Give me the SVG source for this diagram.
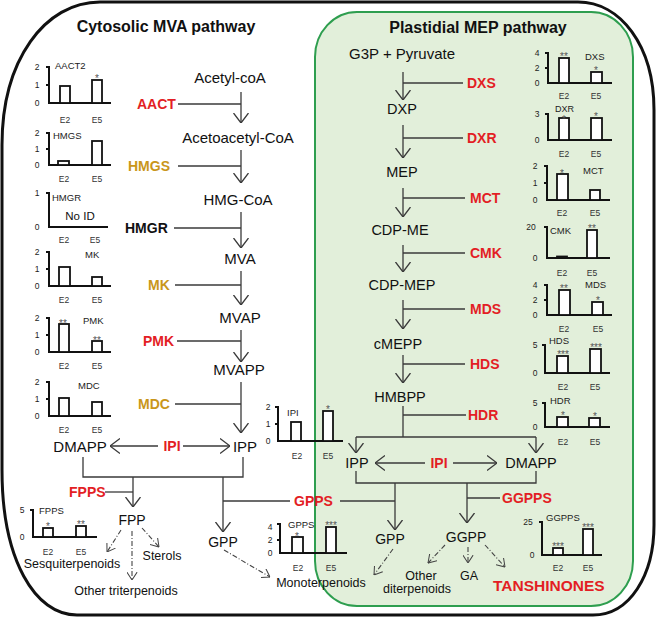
<svg xmlns="http://www.w3.org/2000/svg" width="656" height="619" viewBox="0 0 656 619">
<style>
text{font-family:"Liberation Sans",Arial,sans-serif;fill:#111}
.m{font-size:15px;text-anchor:middle}
.m2{font-size:14.5px;text-anchor:middle}
.p{font-size:12.5px;text-anchor:middle}
.e{font-size:14px;font-weight:bold}
.r{fill:#e31e24}
.g{fill:#c9961a}
.t{font-size:16px;font-weight:bold;text-anchor:middle}
.ax{stroke:#111;stroke-width:2;fill:none}
.bar{fill:#fff;stroke:#111;stroke-width:1.8}
.d{font-size:8.5px;text-anchor:middle;fill:#222}
.cl{font-size:9.5px;fill:#222}
.x{font-size:8.5px;text-anchor:middle;fill:#333}
.s{font-size:10px;text-anchor:middle;fill:#555}
.ln{stroke:#3a3a3a;stroke-width:1.3;fill:none}
.ar{marker-end:url(#ah)}
.dd{stroke:#444;stroke-width:1.1;fill:none;stroke-dasharray:5 2 1 2;marker-end:url(#ah2)}
</style>
<defs>
<marker id="ah" viewBox="0 0 10 16" refX="10" refY="8" markerWidth="10" markerHeight="16" markerUnits="userSpaceOnUse" orient="auto">
<path d="M0,0.5 L10,8 L0,15.5" fill="none" stroke="#3a3a3a" stroke-width="1.3"/>
</marker>
<marker id="ah2" viewBox="0 0 10 14" refX="10" refY="7" markerWidth="8" markerHeight="11" markerUnits="userSpaceOnUse" orient="auto">
<path d="M0,0.5 L10,7 L0,13.5" fill="none" stroke="#444" stroke-width="1.3"/>
</marker>
</defs>

<!-- outer border -->
<path d="M100,2 L578,2 C620,2 654,45 654,110 L654,525 C654,575 630,615 593,615 L77,615 C35,615 2,560 2,470 L2,145 C2,60 45,2 100,2 Z" fill="#fff" stroke="#111" stroke-width="3"/>
<!-- plastid box -->
<rect x="315" y="12" width="318" height="594" rx="42" ry="45" fill="#e2efda" stroke="#2e9e4f" stroke-width="2"/>

<g id="titles">
<text class="t" x="166" y="32">Cytosolic MVA pathway</text>
<text class="t" x="478" y="33">Plastidial MEP pathway</text>
</g>

<!-- charts -->
<g id="chart-AACT2">
<path class="ax" d="M46,67 H49 V103 H111 M46,85 H49"/>
<rect class="bar" x="60" y="86" width="10" height="17"/><rect class="bar" x="92" y="80" width="10" height="23"/>
<text class="d" x="37" y="70">2</text><text class="d" x="37" y="88">1</text><text class="d" x="37" y="106">0</text>
<text class="cl" x="55" y="69">AACT2</text><text class="s" x="97" y="82">*</text>
<text class="x" x="65" y="123">E2</text><text class="x" x="97" y="123">E5</text>
</g>
<g id="chart-HMGS">
<path class="ax" d="M46,133 H49 V165 H111 M46,149 H49"/>
<rect class="bar" x="58" y="161" width="11" height="4"/><rect class="bar" x="92" y="141" width="10" height="24"/>
<text class="d" x="37" y="136">2</text><text class="d" x="37" y="152">1</text><text class="d" x="37" y="168">0</text>
<text class="cl" x="53" y="139">HMGS</text>
<text class="x" x="64" y="182">E2</text><text class="x" x="97" y="182">E5</text>
</g>
<g id="chart-HMGR">
<path class="ax" d="M46,193 H49 V227 H108"/>
<text class="d" x="37" y="196">1</text><text class="d" x="37" y="230">0</text>
<text class="cl" x="52" y="201">HMGR</text>
<text x="80" y="220" style="font-size:11.5px;text-anchor:middle">No ID</text>
<text class="x" x="64" y="243">E2</text><text class="x" x="95" y="243">E5</text>
</g>
<g id="chart-MK">
<path class="ax" d="M46,252 H49 V286 H111 M46,269 H49"/>
<rect class="bar" x="59" y="267" width="11" height="19"/><rect class="bar" x="92" y="277" width="10" height="9"/>
<text class="d" x="37" y="255">2</text><text class="d" x="37" y="272">1</text><text class="d" x="37" y="289">0</text>
<text class="cl" x="85" y="258">MK</text>
<text class="x" x="64" y="303">E2</text><text class="x" x="97" y="303">E5</text>
</g>
<g id="chart-PMK">
<path class="ax" d="M46,318 H49 V352 H111 M46,335 H49"/>
<rect class="bar" x="59" y="324" width="10" height="28"/><rect class="bar" x="92" y="341" width="10" height="11"/>
<text class="d" x="37" y="321">2</text><text class="d" x="37" y="338">1</text><text class="d" x="37" y="355">0</text>
<text class="s" x="63" y="327">**</text><text class="cl" x="83" y="324">PMK</text><text class="s" x="97" y="344">**</text>
<text class="x" x="64" y="369">E2</text><text class="x" x="97" y="369">E5</text>
</g>
<g id="chart-MDC">
<path class="ax" d="M46,382 H49 V416 H111 M46,399 H49"/>
<rect class="bar" x="59" y="398" width="10" height="18"/><rect class="bar" x="92" y="402" width="10" height="14"/>
<text class="d" x="37" y="385">2</text><text class="d" x="37" y="402">1</text><text class="d" x="37" y="419">0</text>
<text class="cl" x="78" y="389">MDC</text>
<text class="x" x="64" y="433">E2</text><text class="x" x="97" y="433">E5</text>
</g>
<g id="chart-IPI">
<path class="ax" d="M275,407 H278 V441 H343 M275,424 H278"/>
<rect class="bar" x="291" y="422" width="10" height="19"/><rect class="bar" x="323" y="411" width="10" height="30"/>
<text class="d" x="268" y="410">2</text><text class="d" x="268" y="427">1</text><text class="d" x="268" y="444">0</text>
<text class="cl" x="287" y="416">IPI</text><text class="s" x="328" y="413">*</text>
<text class="x" x="297" y="459">E2</text><text class="x" x="328" y="459">E5</text>
</g>
<g id="chart-FPPS">
<path class="ax" d="M30,510 H33 V537 H97"/>
<rect class="bar" x="43" y="528" width="10" height="9"/><rect class="bar" x="76" y="526" width="10" height="11"/>
<text class="d" x="22" y="513">5</text><text class="d" x="22" y="540">0</text>
<text class="cl" x="39" y="514">FPPS</text><text class="s" x="48" y="530">*</text><text class="s" x="81" y="528">**</text>
<text class="x" x="48" y="555">E2</text><text class="x" x="81" y="555">E5</text>
</g>
<g id="chart-GPPS">
<path class="ax" d="M277,524 H280 V553 H347 M277,540 H280"/>
<rect class="bar" x="292" y="537" width="11" height="16"/><rect class="bar" x="326" y="527" width="10" height="26"/>
<text class="d" x="270" y="530">4</text><text class="d" x="270" y="543">2</text><text class="d" x="270" y="556">0</text>
<text class="cl" x="288" y="528">GPPS</text><text class="s" x="297" y="540">*</text><text class="s" x="331" y="529">***</text>
<text class="x" x="298" y="571">E2</text><text class="x" x="331" y="571">E5</text>
</g>
<g id="chart-DXS">
<path class="ax" d="M545,53 H548 V83 H612 M545,68 H548"/>
<rect class="bar" x="559" y="58" width="10" height="25"/><rect class="bar" x="591" y="72" width="11" height="11"/>
<text class="d" x="537" y="56">4</text><text class="d" x="537" y="71">2</text><text class="d" x="537" y="86">0</text>
<text class="s" x="564" y="60">**</text><text class="cl" x="585" y="60">DXS</text><text class="s" x="596" y="74">*</text>
<text class="x" x="564" y="99">E2</text><text class="x" x="596" y="99">E5</text>
</g>
<g id="chart-DXR">
<path class="ax" d="M545,114 H548 V140 H612"/>
<rect class="bar" x="559" y="118" width="10" height="22"/><rect class="bar" x="591" y="118" width="11" height="22"/>
<text class="d" x="537" y="117">3</text><text class="d" x="537" y="143">0</text>
<text x="555" y="112" style="font-size:9px;fill:#222">DXR</text><text class="s" x="564" y="123">*</text><text class="s" x="596" y="120">*</text>
<text class="x" x="564" y="157">E2</text><text class="x" x="596" y="157">E5</text>
</g>
<g id="chart-MCT">
<path class="ax" d="M544,166 H547 V200 H610 M544,183 H547"/>
<rect class="bar" x="557" y="174" width="11" height="26"/><rect class="bar" x="590" y="190" width="10" height="10"/>
<text class="d" x="535" y="169">2</text><text class="d" x="535" y="186">1</text><text class="d" x="535" y="203">0</text>
<text class="s" x="562" y="177">*</text><text class="cl" x="583" y="174">MCT</text>
<text class="x" x="562" y="216">E2</text><text class="x" x="595" y="216">E5</text>
</g>
<g id="chart-CMK">
<path class="ax" d="M544,227 H547 V258 H610"/>
<rect class="bar" x="557" y="256.5" width="10" height="1.5"/><rect class="bar" x="587" y="230" width="10" height="28"/>
<text class="d" x="531" y="230">20</text><text class="d" x="535" y="261">0</text>
<text class="cl" x="550" y="234">CMK</text><text class="s" x="592" y="232">**</text>
<text class="x" x="562" y="276">E2</text><text class="x" x="592" y="276">E5</text>
</g>
<g id="chart-MDS">
<path class="ax" d="M544,285 H547 V315 H612 M544,300 H547"/>
<rect class="bar" x="559" y="290" width="11" height="25"/><rect class="bar" x="592" y="302" width="11" height="13"/>
<text class="d" x="535" y="288">4</text><text class="d" x="535" y="303">2</text><text class="d" x="535" y="318">0</text>
<text class="s" x="564" y="292">**</text><text class="cl" x="585" y="288">MDS</text><text class="s" x="598" y="304">*</text>
<text class="x" x="564" y="332">E2</text><text class="x" x="598" y="332">E5</text>
</g>
<g id="chart-HDS">
<path class="ax" d="M542,345 H545 V373 H610"/>
<rect class="bar" x="557" y="356" width="11" height="17"/><rect class="bar" x="590" y="349" width="11" height="24"/>
<text class="d" x="535" y="348">5</text><text class="d" x="535" y="376">0</text>
<text class="cl" x="549" y="344">HDS</text><text class="s" x="563" y="358">***</text><text class="s" x="596" y="351">***</text>
<text class="x" x="563" y="390">E2</text><text class="x" x="595" y="390">E5</text>
</g>
<g id="chart-HDR">
<path class="ax" d="M542,403 H545 V427 H610"/>
<rect class="bar" x="557" y="417" width="11" height="10"/><rect class="bar" x="589" y="418" width="11" height="9"/>
<text class="d" x="535" y="406">5</text><text class="d" x="535" y="430">0</text>
<text class="cl" x="550" y="404">HDR</text><text class="s" x="563" y="419">*</text><text class="s" x="595" y="420">*</text>
<text class="x" x="563" y="445">E2</text><text class="x" x="595" y="445">E5</text>
</g>
<g id="chart-GGPPS">
<path class="ax" d="M539,522 H542 V555 H602"/>
<rect class="bar" x="553" y="548" width="10" height="7"/><rect class="bar" x="583" y="529" width="10" height="26"/>
<text class="d" x="528" y="525">25</text><text class="d" x="532" y="558">0</text>
<text class="cl" x="546" y="521">GGPPS</text><text class="s" x="558" y="550">***</text><text class="s" x="588" y="531">***</text>
<text class="x" x="558" y="571">E2</text><text class="x" x="588" y="571">E5</text>
</g>

<!-- connectors -->
<g id="connectors">
<path class="ln ar" d="M241,92 V123"/><path class="ln" d="M178,104 H241"/>
<path class="ln ar" d="M241,150 V183"/><path class="ln" d="M178,166 H241"/>
<path class="ln ar" d="M241,212 V248"/><path class="ln" d="M174,228 H241"/>
<path class="ln ar" d="M241,271 V305"/><path class="ln" d="M175,285 H241"/>
<path class="ln ar" d="M241,330 V362"/><path class="ln" d="M177,341 H241"/>
<path class="ln ar" d="M241,382 V433"/><path class="ln" d="M175,404 H241"/>
<path class="ln ar" d="M158,446 H110"/><path class="ln ar" d="M183,446 H230"/>
<path class="ln" d="M83,457 V477 H243 V457"/>
<path class="ln ar" d="M133,477 V507"/><path class="ln" d="M105,492 H133"/>
<path class="ln ar" d="M223,477 V532"/><path class="ln" d="M223,501 H290"/>
<path class="dd" d="M121,530 L107,552"/>
<path class="dd" d="M132,531 V580"/>
<path class="dd" d="M142,528 L159,547"/>
<path class="dd" d="M224,550 L270,577"/>

<path class="ln ar" d="M403,72 V100"/><path class="ln" d="M403,83 H463"/>
<path class="ln ar" d="M403,125 V158"/><path class="ln" d="M403,138 H463"/>
<path class="ln ar" d="M403,188 V217"/><path class="ln" d="M403,198 H465"/>
<path class="ln ar" d="M403,245 V272"/><path class="ln" d="M403,253 H465"/>
<path class="ln ar" d="M403,300 V329"/><path class="ln" d="M403,309 H465"/>
<path class="ln ar" d="M403,355 V383"/><path class="ln" d="M403,364 H465"/>
<path class="ln" d="M403,406 V437"/><path class="ln" d="M403,415 H466"/>
<path class="ln" d="M356,437 H536"/>
<path class="ln ar" d="M356,437 V453"/><path class="ln ar" d="M536,437 V453"/>
<path class="ln ar" d="M425,463 H375"/><path class="ln ar" d="M453,463 H497"/>
<path class="ln" d="M356,471 V483 H536 V471"/>
<path class="ln ar" d="M395,483 V530"/><path class="ln" d="M340,501 H395"/>
<path class="ln ar" d="M467,483 V523"/><path class="ln" d="M467,498 H500"/>
<path class="dd" d="M393,549 L374,575"/>
<path class="dd" d="M445,545 L428,563"/>
<path class="dd" d="M468,547 V563"/>
<path class="dd" d="M485,545 L505,567"/>
</g>

<!-- MVA nodes -->
<g id="n-acetylcoa"><text class="m" x="230" y="83">Acetyl-coA</text></g>
<g id="n-acetoacetylcoa"><text class="m" x="238" y="143">Acetoacetyl-CoA</text></g>
<g id="n-hmgcoa"><text class="m" x="238" y="205">HMG-CoA</text></g>
<g id="n-mva"><text class="m" x="240" y="264">MVA</text></g>
<g id="n-mvap"><text class="m" x="240" y="323">MVAP</text></g>
<g id="n-mvapp"><text class="m" x="239" y="375">MVAPP</text></g>
<g id="n-dmapp-c"><text class="m" x="80" y="452">DMAPP</text></g>
<g id="n-ipp-c"><text class="m" x="245" y="452">IPP</text></g>
<g id="n-fpp"><text class="m" x="132" y="525" style="font-size:14px">FPP</text></g>
<g id="n-gpp-c"><text class="m" x="223" y="547" style="font-size:14px">GPP</text></g>
<g id="n-sesqui"><text class="p" x="72" y="568">Sesquiterpenoids</text></g>
<g id="n-sterols"><text class="p" x="162" y="560">Sterols</text></g>
<g id="n-othertri"><text class="p" x="126" y="595">Other triterpenoids</text></g>
<g id="n-mono"><text class="p" x="321" y="587">Monoterpenoids</text></g>

<!-- MVA enzymes -->
<g id="e-aact"><text class="e r" x="137" y="109">AACT</text></g>
<g id="e-hmgs"><text class="e g" x="128" y="171">HMGS</text></g>
<g id="e-hmgr"><text class="e" x="125" y="233">HMGR</text></g>
<g id="e-mk"><text class="e g" x="148" y="290">MK</text></g>
<g id="e-pmk"><text class="e r" x="143" y="346">PMK</text></g>
<g id="e-mdc"><text class="e g" x="138" y="409">MDC</text></g>
<g id="e-ipi-c"><text class="e r" x="172" y="451" style="text-anchor:middle">IPI</text></g>
<g id="e-fpps"><text class="e r" x="69" y="497">FPPS</text></g>
<g id="e-gpps"><text class="e r" x="294" y="506">GPPS</text></g>

<!-- MEP nodes -->
<g id="n-g3p"><text class="m" x="402" y="59">G3P + Pyruvate</text></g>
<g id="n-dxp"><text class="m2" x="402" y="114">DXP</text></g>
<g id="n-mep"><text class="m2" x="402" y="177">MEP</text></g>
<g id="n-cdpme"><text class="m2" x="400" y="235">CDP-ME</text></g>
<g id="n-cdpmep"><text class="m2" x="402" y="290">CDP-MEP</text></g>
<g id="n-cmepp"><text class="m2" x="398" y="349">cMEPP</text></g>
<g id="n-hmbpp"><text class="m2" x="400" y="402">HMBPP</text></g>
<g id="n-ipp-p"><text class="m2" x="357" y="468">IPP</text></g>
<g id="n-dmapp-p"><text class="m2" x="531" y="468">DMAPP</text></g>
<g id="n-gpp-p"><text class="m" x="390" y="544" style="font-size:14px">GPP</text></g>
<g id="n-ggpp"><text class="m" x="466" y="542" style="font-size:14px">GGPP</text></g>
<g id="n-otherdi"><text class="p" x="421" y="580">Other</text><text class="p" x="417" y="593">diterpenoids</text></g>
<g id="n-ga"><text class="p" x="469" y="580">GA</text></g>
<g id="n-tanshinones"><text x="493" y="591" style="font-size:15.5px;font-weight:bold;fill:#e31e24">TANSHINONES</text></g>

<!-- MEP enzymes -->
<g id="e-dxs"><text class="e r" x="467" y="88">DXS</text></g>
<g id="e-dxr"><text class="e r" x="467" y="143">DXR</text></g>
<g id="e-mct"><text class="e r" x="470" y="203">MCT</text></g>
<g id="e-cmk"><text class="e r" x="470" y="258">CMK</text></g>
<g id="e-mds"><text class="e r" x="470" y="314">MDS</text></g>
<g id="e-hds"><text class="e r" x="470" y="369">HDS</text></g>
<g id="e-hdr"><text class="e r" x="468" y="420">HDR</text></g>
<g id="e-ipi-p"><text class="e r" x="439" y="468" style="text-anchor:middle">IPI</text></g>
<g id="e-ggpps"><text class="e r" x="502" y="503">GGPPS</text></g>
</svg>
